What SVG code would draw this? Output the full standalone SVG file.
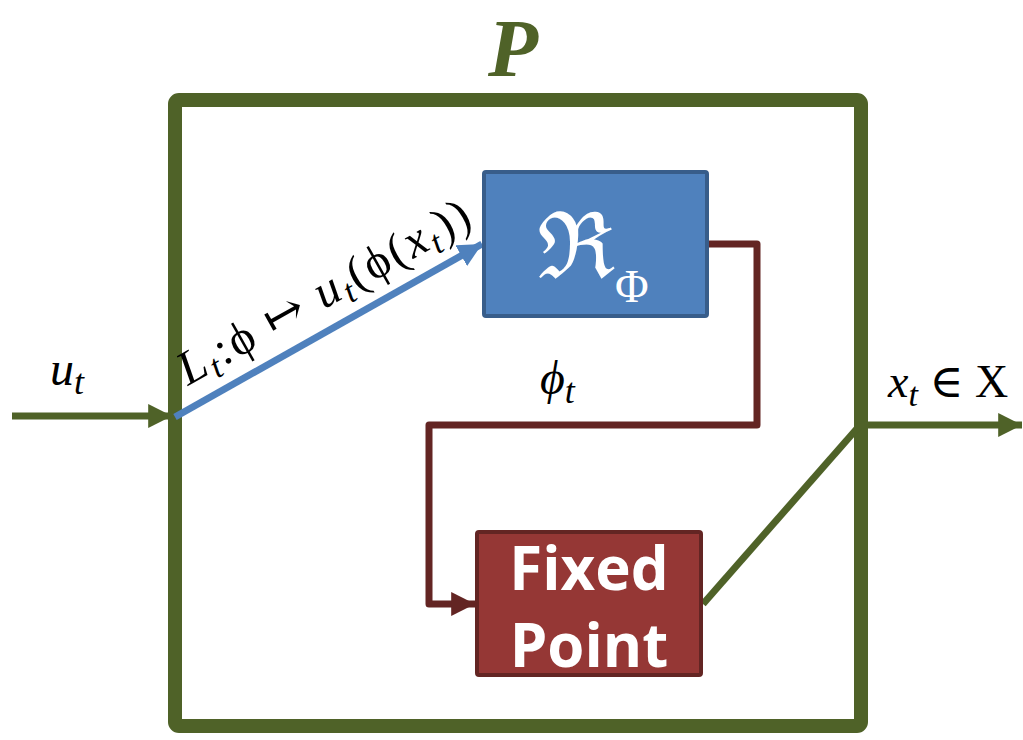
<svg xmlns="http://www.w3.org/2000/svg" width="1023" height="740" viewBox="0 0 1023 740">
<style>
.math{font-family:"Liberation Serif","DejaVu Serif",serif;font-style:italic;fill:#000}
.up{font-style:normal}
.fp{font-family:"Open Sans","Noto Sans",sans-serif;font-weight:bold;fill:#fff;font-size:60px}
</style>
<defs>
<marker id="ag" viewBox="0 0 10 10" refX="10" refY="5" markerWidth="3.4" markerHeight="3.4" markerUnits="strokeWidth" orient="auto"><path d="M0,0L10,5L0,10z" fill="#4F6228"/></marker>
<marker id="ab" viewBox="0 0 10 10" refX="10" refY="5" markerWidth="3.4" markerHeight="3.4" markerUnits="strokeWidth" orient="auto"><path d="M0,0L10,5L0,10z" fill="#4F81BD"/></marker>
<marker id="ar" viewBox="0 0 10 10" refX="10" refY="5" markerWidth="3.4" markerHeight="3.4" markerUnits="strokeWidth" orient="auto"><path d="M0,0L10,5L0,10z" fill="#632523"/></marker>
</defs>
<rect width="1023" height="740" fill="#fff"/>
<g id="system">
<rect x="175" y="100" width="686" height="626" rx="4" fill="none" stroke="#4F6228" stroke-width="14"/>
<text x="513" y="76" text-anchor="middle" font-family="Liberation Serif,serif" font-style="italic" font-weight="bold" font-size="82" fill="#4F6228">P</text>
</g>
<g id="connectors" fill="none" stroke-width="7">
<line x1="12" y1="416" x2="172" y2="416" stroke="#4F6228" marker-end="url(#ag)"/>
<line x1="175" y1="417" x2="482" y2="244" stroke="#4F81BD" marker-end="url(#ab)"/>
<path d="M708,244H757V425H429V604H475" stroke="#632523" stroke-linejoin="round" marker-end="url(#ar)"/>
<line x1="703" y1="604" x2="861" y2="424" stroke="#4F6228"/>
<line x1="861" y1="425" x2="1022" y2="425" stroke="#4F6228" marker-end="url(#ag)"/>
</g>
<g id="reservoir">
<rect x="484" y="172" width="223" height="144" rx="2" fill="#4F81BD" stroke="#385D8A" stroke-width="4"/>
<text x="537" y="278" font-family="DejaVu Serif,serif" font-size="92" fill="#fff">ℜ<tspan font-family="Liberation Serif,serif" font-size="46" dy="24">Φ</tspan></text>
</g>
<g id="fixedpoint">
<rect x="477" y="532" width="224" height="143" rx="2" fill="#953735" stroke="#632523" stroke-width="4"/>
<text class="fp" x="589" y="590" text-anchor="middle">Fixed</text>
<text class="fp" x="589" y="667" text-anchor="middle">Point</text>
</g>
<g id="labels">
<text class="math" x="50" y="385" font-size="48">u<tspan font-size="36" dy="9">t</tspan></text>
<text class="math" x="540" y="394" font-size="48">ϕ<tspan font-size="36" dy="9">t</tspan></text>
<text class="math" x="888" y="397" font-size="46">x<tspan font-size="34" dy="9">t</tspan><tspan class="up" dy="-9"> ∈ X</tspan></text>
<text class="math" transform="translate(188,386) rotate(-29.4)" font-size="48" letter-spacing="2.4">L<tspan font-size="34" dy="8">t</tspan><tspan class="up" dy="-8">:ϕ ↦ </tspan>u<tspan font-size="34" dy="8">t</tspan><tspan class="up" dy="-8">(ϕ(</tspan>x<tspan font-size="34" dy="8">t</tspan><tspan class="up" dy="-8">))</tspan></text>
</g>
</svg>
